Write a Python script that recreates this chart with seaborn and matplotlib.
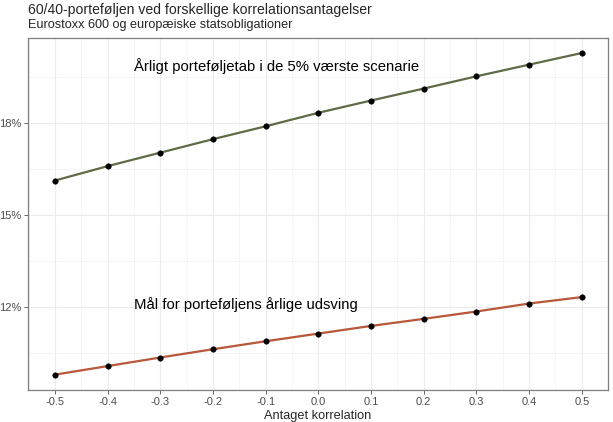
import numpy as np
import pandas as pd
import matplotlib
matplotlib.use("Agg")
import matplotlib.pyplot as plt
import seaborn as sns

sns.set_theme(style="whitegrid")
plt.rcParams['font.family'] = ['Liberation Sans', 'DejaVu Sans']

korrelation = [-0.5, -0.4, -0.3, -0.2, -0.1, 0.0, 0.1, 0.2, 0.3, 0.4, 0.5]
tab_5pct = [16.12, 16.59, 17.03, 17.47, 17.89, 18.33, 18.73, 19.12, 19.52, 19.90, 20.28]
udsving = [9.79, 10.07, 10.35, 10.62, 10.88, 11.13, 11.38, 11.61, 11.85, 12.11, 12.32]
y_ticks = [12, 15, 18]
y_labels = ["12%", "15%", "18%"]

df = pd.DataFrame({'korrelation': korrelation, 'tab': tab_5pct, 'udsving': udsving})

fig = plt.figure(figsize=(6.13, 4.22), dpi=100)
ax = fig.add_axes([0.0457, 0.0758, 0.9463, 0.8342])

sns.lineplot(data=df, x='korrelation', y='tab', color='#5f6b47', linewidth=1.6, ax=ax)
sns.lineplot(data=df, x='korrelation', y='udsving', color='#b8573a', linewidth=1.6, ax=ax)
sns.scatterplot(data=df, x='korrelation', y='tab', color='black', s=16, edgecolor='black', zorder=3, ax=ax)
sns.scatterplot(data=df, x='korrelation', y='udsving', color='black', s=16, edgecolor='black', zorder=3, ax=ax)

ax.text(-0.35, 19.86, "Årligt porteføljetab i de 5% værste scenarie", fontsize=10.7, va='center', ha='left', color='black')
ax.text(-0.35, 12.07, "Mål for porteføljens årlige udsving", fontsize=10.7, va='center', ha='left', color='black')

ax.set_xlim(-0.551, 0.549)
ax.set_ylim(9.29, 20.77)
ax.set_xticks(korrelation)
ax.set_xticklabels([f"{v:.1f}" for v in korrelation])
ax.set_yticks(y_ticks)
ax.set_yticklabels(y_labels)
ax.set_xticks(np.arange(-0.55, 0.56, 0.1), minor=True)
ax.set_yticks([10.5, 13.5, 16.5, 19.5], minor=True)

ax.grid(which='major', color='#ebebeb', linewidth=0.8)
ax.grid(which='minor', color='#f2f2f2', linewidth=0.5)
ax.set_facecolor('white')
for s in ax.spines.values():
    s.set_color('#7f7f7f')
    s.set_linewidth(0.9)

ax.tick_params(axis='both', which='major', labelsize=8, labelcolor='#4d4d4d', color='#4d4d4d',
               length=3, width=0.6, pad=2, left=True, bottom=True)
ax.tick_params(which='minor', length=0)
ax.set_xlabel("Antaget korrelation", fontsize=9.2, labelpad=2)
ax.set_ylabel("")

fig.text(0.046, 0.976, "60/40-porteføljen ved forskellige korrelationsantagelser", fontsize=10.1, va='center', ha='left')
fig.text(0.046, 0.940, "Eurostoxx 600 og europæiske statsobligationer", fontsize=9.1, va='center', ha='left')

fig.savefig("out.png", dpi=100)
